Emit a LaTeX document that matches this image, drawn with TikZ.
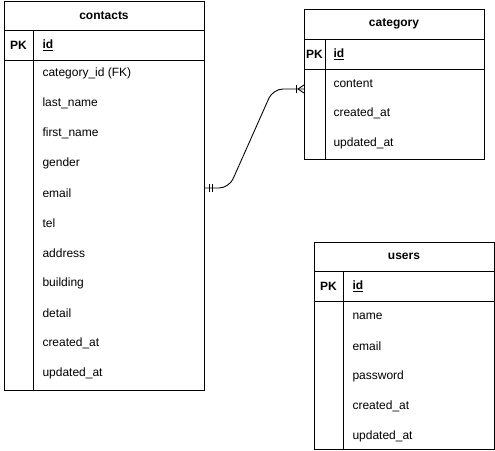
\documentclass[tikz,border=0pt]{standalone}
\usepackage{fontspec}
\setmainfont{Liberation Sans}
\begin{document}
\begin{tikzpicture}[x=1pt,y=-1pt,line width=1pt,
  tbl/.style={draw=black,fill=white,anchor=north west,inner sep=0pt},
  hdr/.style={font=\fontsize{12}{14}\selectfont\bfseries,anchor=center,inner sep=0pt},
  fld/.style={font=\fontsize{12}{14}\selectfont,anchor=west,inner sep=0pt},
  pkl/.style={font=\fontsize{12}{14}\selectfont\bfseries,anchor=center,inner sep=0pt},
  idl/.style={font=\fontsize{12}{14}\selectfont\bfseries,anchor=west,inner sep=0pt},
  rel/.style={draw=black,line width=0.9pt}]
\useasboundingbox (0,0) rectangle (495,450);
\fill[white] (0,0) rectangle (495,450);

% contacts
\node[tbl,minimum width=200pt,minimum height=389pt] (contacts) at (4,1) {};
\draw (4,30) -- (204,30);
\draw (4,60) -- (204,60);
\draw (33,30) -- (33,390);
\node[hdr] (contactsH) at (104,15.5) {contacts};
\node[pkl] (contactsPK) at (18.5,45) {PK};
\node[idl] (contactsId) at (42,45) {\underline{id}};
\foreach \t [count=\i] in {category\_id (FK),last\_name,first\_name,gender,email,tel,address,building,detail,created\_at,updated\_at}
  \node[fld] (contactsF\i) at (42,{43.5+30*\i}) {\t};

% category
\node[tbl,minimum width=180pt,minimum height=150pt] (category) at (304,9) {};
\draw (304,39) -- (484,39);
\draw (304,69) -- (484,69);
\draw (325,39) -- (325,159);
\node[hdr] (categoryH) at (394,24) {category};
\node[pkl] (categoryPK) at (314.5,54) {PK};
\node[idl] (categoryId) at (333,54) {\underline{id}};
\foreach \t [count=\i] in {content,created\_at,updated\_at}
  \node[fld] (categoryF\i) at (333,{53.5+30*\i}) {\t};

% users
\node[tbl,minimum width=180pt,minimum height=207pt] (users) at (314,242) {};
\draw (314,271) -- (494,271);
\draw (314,301) -- (494,301);
\draw (343,271) -- (343,449);
\node[hdr] (usersH) at (404,256.5) {users};
\node[pkl] (usersPK) at (328.5,286) {PK};
\node[idl] (usersId) at (352,286) {\underline{id}};
\foreach \t [count=\i] in {name,email,password,created\_at,updated\_at}
  \node[fld] (usersF\i) at (352,{286+30*\i}) {\t};

% relation
\coordinate (relA) at (contacts.east |- 0,188);
\coordinate (relB) at (category.west |- 0,89);
\draw[rel,rounded corners=10pt] (relA) -- ++(24,0) -- (273,89) -- (relB);
\draw[rel] ([xshift=4pt,yshift=4pt]relA) -- ++(0,8);
\draw[rel] ([xshift=7pt,yshift=4pt]relA) -- ++(0,8);
\draw[rel] ([xshift=-8pt,yshift=4pt]relB) -- ++(0,8);
\draw[rel] ([xshift=-6pt]relB) -- ([yshift=-4pt]relB);
\draw[rel] ([xshift=-6pt]relB) -- ([yshift=4pt]relB);
\end{tikzpicture}
\end{document}
